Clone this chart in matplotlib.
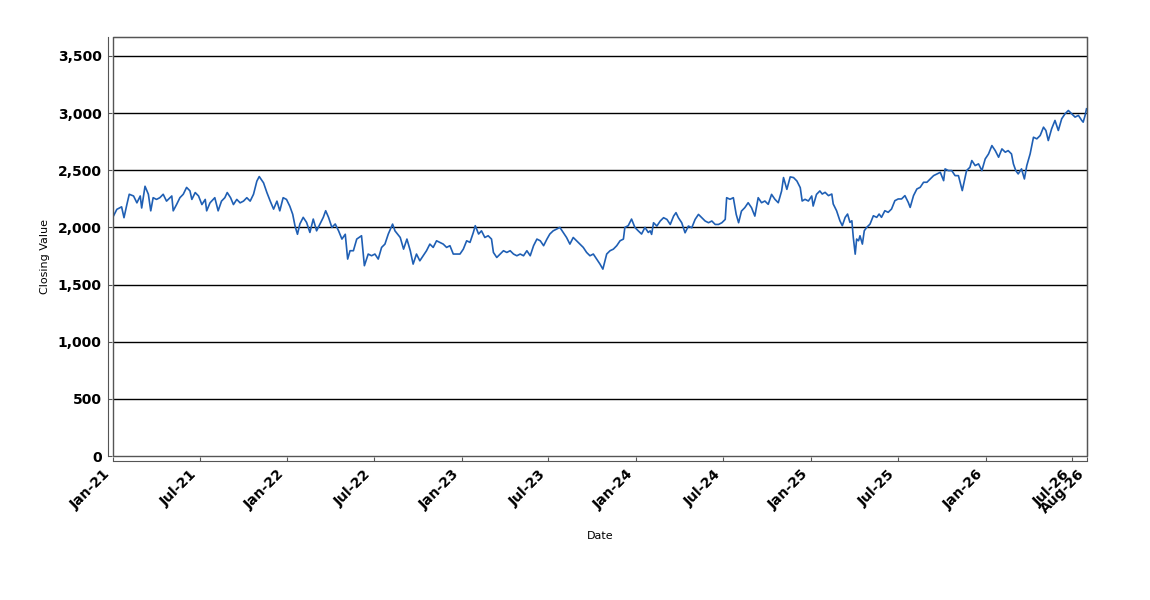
import matplotlib
matplotlib.use("Agg")
import matplotlib.pyplot as plt
import pandas as pd
from matplotlib.patches import Rectangle
from matplotlib.ticker import FuncFormatter, FixedLocator, FixedFormatter
import matplotlib.dates as mdates

dates = [
    "2021-01-02", "2021-01-09", "2021-01-19", "2021-01-24", "2021-01-30", "2021-02-04", "2021-02-13",
    "2021-02-20", "2021-02-27", "2021-03-02", "2021-03-09", "2021-03-16", "2021-03-21", "2021-03-26",
    "2021-04-02", "2021-04-09", "2021-04-16", "2021-04-23", "2021-05-04", "2021-05-07", "2021-05-14",
    "2021-05-21", "2021-05-28", "2021-06-04", "2021-06-11", "2021-06-15", "2021-06-22", "2021-06-29",
    "2021-07-06", "2021-07-13", "2021-07-16", "2021-07-23", "2021-08-02", "2021-08-09", "2021-08-16",
    "2021-08-23", "2021-08-28", "2021-09-04", "2021-09-10", "2021-09-17", "2021-09-24", "2021-10-01",
    "2021-10-08", "2021-10-15", "2021-10-22", "2021-10-29", "2021-11-03", "2021-11-12", "2021-11-19",
    "2021-11-26", "2021-12-03", "2021-12-10", "2021-12-16", "2021-12-23", "2021-12-30", "2022-01-06",
    "2022-01-12", "2022-01-17", "2022-01-22",
    "2022-01-27", "2022-02-03", "2022-02-10", "2022-02-17", "2022-02-24", "2022-03-03", "2022-03-10",
    "2022-03-17", "2022-03-22", "2022-03-28", "2022-04-04", "2022-04-11", "2022-04-18", "2022-04-25",
    "2022-05-02", "2022-05-07", "2022-05-12", "2022-05-19", "2022-05-26", "2022-06-05", "2022-06-11",
    "2022-06-19", "2022-06-26", "2022-07-03", "2022-07-10", "2022-07-17", "2022-07-24", "2022-07-31",
    "2022-08-09", "2022-08-14", "2022-08-25", "2022-09-01", "2022-09-08", "2022-09-15", "2022-09-21",
    "2022-09-28", "2022-10-05", "2022-10-12", "2022-10-19", "2022-10-26", "2022-11-02", "2022-11-09",
    "2022-11-16", "2022-11-23", "2022-11-30", "2022-12-07", "2022-12-14", "2022-12-21", "2022-12-28",
    "2023-01-04", "2023-01-11", "2023-01-18", "2023-01-25", "2023-01-29",
    "2023-02-05", "2023-02-11", "2023-02-18", "2023-02-25", "2023-03-04", "2023-03-08", "2023-03-15",
    "2023-03-22", "2023-03-29", "2023-04-05", "2023-04-12", "2023-04-19", "2023-04-26", "2023-05-03",
    "2023-05-10", "2023-05-17", "2023-05-24", "2023-05-31", "2023-06-07", "2023-06-14", "2023-06-21",
    "2023-06-28", "2023-07-04", "2023-07-11", "2023-07-18", "2023-07-25", "2023-08-01", "2023-08-08",
    "2023-08-15", "2023-08-22", "2023-08-29", "2023-09-05", "2023-09-12", "2023-09-19", "2023-09-26",
    "2023-10-03", "2023-10-10", "2023-10-17", "2023-10-23", "2023-10-31", "2023-11-07", "2023-11-14",
    "2023-11-21", "2023-11-28", "2023-12-05", "2023-12-08", "2023-12-15", "2023-12-22", "2023-12-29",
    "2024-01-05", "2024-01-12", "2024-01-19", "2024-01-26", "2024-01-30",
    "2024-02-02", "2024-02-06", "2024-02-13", "2024-02-20", "2024-02-27", "2024-03-05", "2024-03-12",
    "2024-03-19", "2024-03-24", "2024-03-29", "2024-04-05", "2024-04-12", "2024-04-19", "2024-04-26",
    "2024-05-03", "2024-05-10", "2024-05-17", "2024-05-24", "2024-05-31", "2024-06-07", "2024-06-14",
    "2024-06-21", "2024-06-28", "2024-07-05", "2024-07-08", "2024-07-15", "2024-07-22", "2024-07-28",
    "2024-08-02", "2024-08-08", "2024-08-15", "2024-08-22", "2024-08-29", "2024-09-05", "2024-09-12",
    "2024-09-19", "2024-09-26", "2024-10-03", "2024-10-10", "2024-10-17", "2024-10-24", "2024-10-31",
    "2024-11-04", "2024-11-11", "2024-11-18", "2024-11-25", "2024-12-02", "2024-12-09", "2024-12-13",
    "2024-12-19", "2024-12-26", "2025-01-02", "2025-01-05", "2025-01-12", "2025-01-19",
    "2025-01-24", "2025-01-30", "2025-02-06", "2025-02-13", "2025-02-16", "2025-02-23", "2025-03-02",
    "2025-03-07", "2025-03-13", "2025-03-18", "2025-03-23", "2025-03-27", "2025-03-30", "2025-04-03",
    "2025-04-06", "2025-04-10", "2025-04-13", "2025-04-18", "2025-04-22", "2025-04-27", "2025-05-04",
    "2025-05-11", "2025-05-18", "2025-05-23", "2025-05-28", "2025-06-04", "2025-06-11", "2025-06-18",
    "2025-06-25", "2025-07-02", "2025-07-09", "2025-07-16", "2025-07-23", "2025-07-27", "2025-08-03",
    "2025-08-10", "2025-08-17", "2025-08-24", "2025-08-31", "2025-09-07", "2025-09-14", "2025-09-21",
    "2025-09-28", "2025-10-05", "2025-10-08", "2025-10-15", "2025-10-22", "2025-10-29",
    "2025-11-05", "2025-11-13", "2025-11-19", "2025-11-22", "2025-11-29", "2025-12-03", "2025-12-10",
    "2025-12-17", "2025-12-24", "2025-12-31", "2026-01-07", "2026-01-14", "2026-01-21", "2026-01-28",
    "2026-02-04", "2026-02-11", "2026-02-17", "2026-02-24", "2026-02-28", "2026-03-05", "2026-03-10",
    "2026-03-17", "2026-03-23", "2026-03-28", "2026-04-04", "2026-04-11", "2026-04-18", "2026-04-25",
    "2026-05-02", "2026-05-07", "2026-05-12", "2026-05-19", "2026-05-26", "2026-06-02", "2026-06-09",
    "2026-06-16", "2026-06-23", "2026-06-30", "2026-07-07", "2026-07-14", "2026-07-21", "2026-07-24",
    "2026-07-28", "2026-07-31",
]

closing_values = [
    2100, 2158, 2180, 2085, 2200, 2290, 2275,
    2215, 2275, 2170, 2360, 2290, 2145, 2260,
    2245, 2260, 2290, 2230, 2275, 2145, 2200,
    2260, 2290, 2350, 2320, 2245, 2305, 2275,
    2200, 2245, 2145, 2215, 2260, 2145, 2230,
    2260, 2305, 2260, 2200, 2245, 2215, 2230,
    2260, 2230, 2290, 2405, 2445, 2390, 2305,
    2230, 2160, 2230, 2145, 2260, 2245, 2185,
    2115, 2010, 1940,
    2030, 2088, 2044, 1956, 2073, 1970, 2030,
    2088, 2146, 2088, 2000, 2030, 1970, 1898,
    1940, 1723, 1796, 1796, 1898, 1927, 1665,
    1767, 1752, 1767, 1723, 1825, 1854, 1942,
    2029, 1970, 1912, 1810, 1898, 1796, 1679,
    1767, 1708, 1752, 1796, 1854, 1825, 1883,
    1869, 1854, 1825, 1840, 1767, 1767, 1767,
    1810, 1883, 1869, 1956, 2015,
    1942, 1970, 1912, 1927, 1898, 1781, 1737,
    1767, 1796, 1781, 1796, 1767, 1752, 1767,
    1752, 1796, 1752, 1840, 1898, 1883, 1840,
    1898, 1942, 1970, 1985, 2000, 1956, 1912,
    1854, 1912, 1883, 1854, 1825, 1781, 1752,
    1767, 1723, 1679, 1635, 1767, 1796, 1810,
    1840, 1883, 1898, 2000, 2015, 2073, 2000,
    1970, 1942, 2000, 1956, 1970,
    1939, 2041, 2012, 2056, 2085, 2070, 2026,
    2099, 2129, 2085, 2041, 1953, 2012, 1997,
    2070, 2114, 2085, 2056, 2041, 2056, 2026,
    2026, 2041, 2070, 2260, 2246, 2260, 2114,
    2041, 2143, 2173, 2216, 2173, 2099, 2260,
    2216, 2231, 2202, 2289, 2246, 2216, 2319,
    2436, 2333, 2442, 2436, 2406, 2348, 2231,
    2246, 2231, 2275, 2187, 2289, 2319,
    2292, 2307, 2278, 2292, 2205, 2146, 2058,
    2015, 2088, 2117, 2044, 2058, 1912, 1766,
    1898, 1883, 1927, 1854, 1971, 2000, 2029,
    2102, 2088, 2117, 2088, 2146, 2132, 2161,
    2234, 2249, 2249, 2278, 2219, 2175, 2278,
    2336, 2351, 2395, 2395, 2424, 2453, 2468,
    2482, 2409, 2512, 2497, 2497, 2453,
    2453, 2322, 2439, 2497, 2526, 2585, 2541,
    2556, 2497, 2599, 2643, 2716, 2672, 2614,
    2687, 2658, 2672, 2643, 2556, 2497, 2468,
    2512, 2424, 2541, 2643, 2789, 2775, 2804,
    2877, 2848, 2760, 2863, 2936, 2848, 2950,
    2994, 3023, 2994, 2965, 2980, 2936, 2921,
    2980, 3038,
]

y_ticks = [0, 500, 1000, 1500, 2000, 2500, 3000, 3500]
x_tick_dates = ["2021-01-01", "2021-07-01", "2022-01-01", "2022-07-01", "2023-01-01", "2023-07-01",
                "2024-01-01", "2024-07-01", "2025-01-01", "2025-07-01", "2026-01-01", "2026-07-01",
                "2026-08-01"]
x_tick_labels = ["Jan-21", "Jul-21", "Jan-22", "Jul-22", "Jan-23", "Jul-23", "Jan-24", "Jul-24",
                 "Jan-25", "Jul-25", "Jan-26", "Jul-26", "Aug-26"]

W, H = 1150, 600
fig = plt.figure(figsize=(W / 100, H / 100), dpi=100)
ax = fig.add_axes([113 / W, 1 - 456 / H, 974 / W, 419 / H])

ax.plot(pd.to_datetime(dates), closing_values, color="#1f5fb4", lw=1.2, zorder=3)
ax.set_xlim(pd.Timestamp("2021-01-01"), pd.Timestamp("2026-08-01"))
ax.set_ylim(0, 3666)

for yv in y_ticks[1:]:
    ax.axhline(yv, color="black", lw=1, zorder=1)

ax.yaxis.set_major_locator(FixedLocator(y_ticks))
ax.yaxis.set_major_formatter(FuncFormatter(lambda v, p: f"{int(v):,}"))
ax.xaxis.set_major_locator(FixedLocator(mdates.date2num(pd.to_datetime(x_tick_dates))))
ax.xaxis.set_major_formatter(FixedFormatter(x_tick_labels))

edge = "#555555"
for s in ["left", "bottom"]:
    ax.spines[s].set_position(("outward", 3.6))
    ax.spines[s].set_color(edge)
for s in ["top", "right"]:
    ax.spines[s].set_color(edge)
ax.add_patch(Rectangle((0, 0), 1, 1, transform=ax.transAxes, fill=False,
                       ec=edge, lw=1, clip_on=False, zorder=4))

ax.tick_params(direction="in", length=3, color=edge, pad=4.5, labelsize=10)
ax.tick_params(axis="x", labelrotation=45)

fig.canvas.draw()
for lab in ax.get_xticklabels():
    lab.set_ha("right")
    lab.set_fontweight("bold")
for lab in ax.get_yticklabels():
    lab.set_fontweight("bold")

fig.text(600 / W, 1 - 536 / H, "Date", ha="center", va="center", fontsize=8)
fig.text(45 / W, 1 - 256 / H, "Closing Value", ha="center", va="center", rotation=90, fontsize=8)

fig.savefig("out.png", dpi=100)
